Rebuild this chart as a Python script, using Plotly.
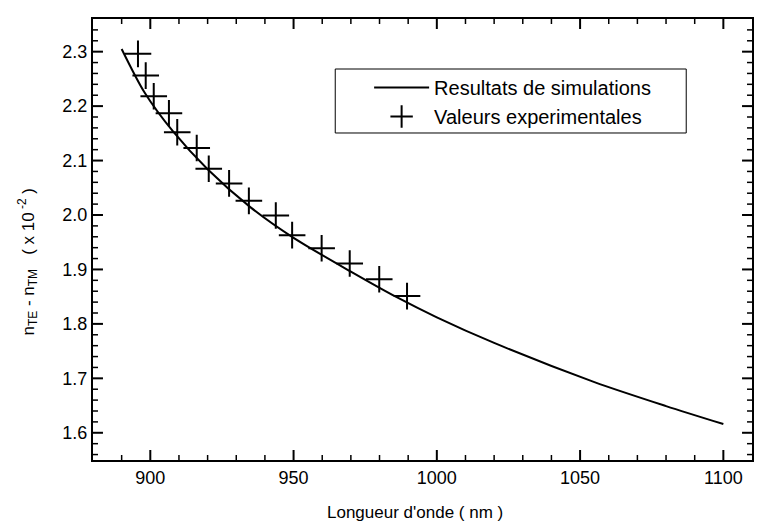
import plotly.graph_objects as go

# Simulation curve
sim_wavelength = [890, 898, 908, 920, 935, 950, 970, 986, 1000, 1020, 1055, 1080, 1100]
sim_delta_n = [2.305, 2.225, 2.153, 2.084, 2.014, 1.958, 1.896, 1.849, 1.812, 1.765, 1.693, 1.649, 1.616]

exp_wavelength = [895.7, 898.4, 901.2, 906.5, 909.4, 916.2, 920.4, 927.5, 934.4, 943.8, 949.5, 959.8, 969.6, 979.9, 989.6]
exp_delta_n = [2.296, 2.256, 2.218, 2.187, 2.152, 2.123, 2.085, 2.058, 2.026, 1.999, 1.963, 1.939, 1.911, 1.882, 1.851]

x_tickvals = [900, 950, 1000, 1050, 1100]
y_tickvals = [1.6, 1.7, 1.8, 1.9, 2.0, 2.1, 2.2, 2.3]
x_range = [880, 1110]
y_range = [1.55, 2.36]

FONT = "Liberation Sans, Arial, Helvetica, sans-serif"

fig = go.Figure()
fig.add_trace(go.Scatter(
    x=sim_wavelength, y=sim_delta_n, mode="lines",
    line=dict(color="black", width=2, shape="spline", smoothing=0.8),
    name="Resultats de simulations",
))
fig.add_trace(go.Scatter(
    x=exp_wavelength, y=exp_delta_n, mode="markers",
    marker=dict(symbol="cross-thin", size=19, line=dict(color="black", width=2), color="black"),
    name="Valeurs experimentales",
))

fig.update_xaxes(
    range=x_range, tickmode="array", tickvals=x_tickvals,
    showline=True, linecolor="black", linewidth=2, mirror=True,
    ticks="", showgrid=False, zeroline=False,
    tickfont=dict(family=FONT, size=18, color="black"),
)
fig.update_yaxes(
    range=y_range, tickmode="array", tickvals=y_tickvals,
    ticktext=[f"{v:.1f}" for v in y_tickvals],
    showline=True, linecolor="black", linewidth=2, mirror=True,
    ticks="", showgrid=False, zeroline=False,
    tickfont=dict(family=FONT, size=18, color="black"),
)

# inward tick marks on all four sides, placed through the axes' own scales
PLOT_W, PLOT_H = 661, 441
x_minor = [v for v in range(890, 1110, 10) if v not in x_tickvals]
y_minor = [round(1.56 + 0.02 * i, 2) for i in range(40)]
y_minor = [v for v in y_minor if v < y_range[1] and all(abs(v - t) > 1e-6 for t in y_tickvals)]

for vals, length, width in [(x_tickvals, 10, 2), (x_minor, 5, 1.5)]:
    frac = length / PLOT_H
    for v in vals:
        fig.add_shape(type="line", xref="x", yref="y domain", x0=v, x1=v, y0=0, y1=frac,
                      line=dict(color="black", width=width))
        fig.add_shape(type="line", xref="x", yref="y domain", x0=v, x1=v, y0=1 - frac, y1=1,
                      line=dict(color="black", width=width))
for vals, length, width in [(y_tickvals, 10, 2), (y_minor, 5, 1.5)]:
    frac = length / PLOT_W
    for v in vals:
        fig.add_shape(type="line", xref="x domain", yref="y", x0=0, x1=frac, y0=v, y1=v,
                      line=dict(color="black", width=width))
        fig.add_shape(type="line", xref="x domain", yref="y", x0=1 - frac, x1=1, y0=v, y1=v,
                      line=dict(color="black", width=width))

fig.add_annotation(
    text="Longueur d'onde ( nm )", xref="paper", yref="paper",
    x=0.489, y=-0.118, xanchor="center", yanchor="middle", showarrow=False,
    font=dict(family=FONT, size=17, color="black"),
)
fig.add_annotation(
    text="n<sub>TE</sub> - n<sub>TM</sub>   ( x 10<sup> -2</sup> )", xref="paper", yref="paper",
    x=-0.098, y=0.449, xanchor="center", yanchor="middle", textangle=-90, showarrow=False,
    font=dict(family=FONT, size=17, color="black"),
)

# legend frame
fig.add_shape(
    type="rect", xref="paper", yref="paper",
    x0=0.3676, x1=0.9002, y0=0.7415, y1=0.8866,
    line=dict(color="black", width=1), fillcolor="white", layer="below",
)

fig.update_layout(
    width=758, height=524, autosize=False,
    margin=dict(l=93, r=4, t=19, b=64),
    paper_bgcolor="white", plot_bgcolor="white",
    showlegend=True,
    legend=dict(
        x=0.419, y=0.889, xanchor="left", yanchor="top",
        borderwidth=0, bgcolor="rgba(0,0,0,0)",
        font=dict(family=FONT, size=20, color="black"),
        itemwidth=55, tracegroupgap=0,
    ),
)

fig.write_html(
    "out.html",
    config={"displayModeBar": False},
    post_script="document.body.style.margin='0';document.body.style.overflow='hidden';",
)
